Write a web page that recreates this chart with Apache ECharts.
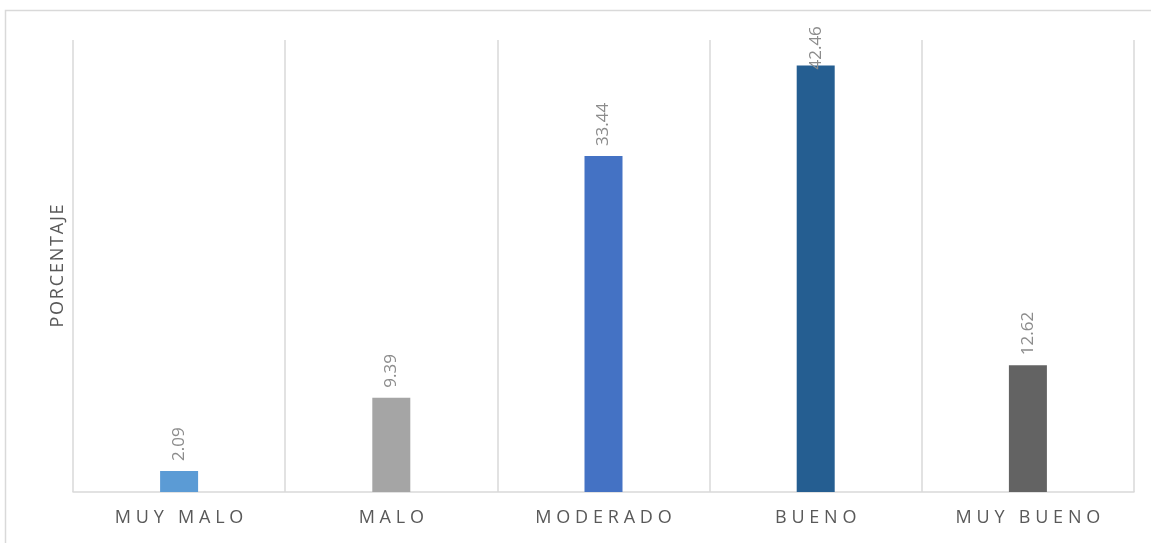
<!DOCTYPE html>
<html><head><meta charset="utf-8">
<script src="https://cdn.jsdelivr.net/npm/echarts@6/dist/echarts.min.js"></script>
<style>html,body{margin:0;padding:0;background:#fff}#c{width:1151px;height:543px}</style>
</head><body><div id="c"></div>
<script>
const categories = ['MUY MALO', 'MALO', 'MODERADO', 'BUENO', 'MUY BUENO'];
const values = [2.09, 9.39, 33.44, 42.46, 12.62];
const barColors = ['#5B9BD5', '#A5A5A5', '#4472C4', '#255E91', '#636363'];
const yAxisName = 'PORCENTAJE';

const spaced = (s, gap) => s.split('').join(gap);
const chart = echarts.init(document.getElementById('c'));
chart.setOption({
  animation: false,
  backgroundColor: '#fff',
  textStyle: { fontFamily: '"Open Sans", sans-serif' },
  graphic: [{
    type: 'rect', silent: true,
    shape: { x: 5.5, y: 10.5, width: 1300, height: 700 },
    style: { fill: 'none', stroke: '#d9d9d9', lineWidth: 1.5 }
  }],
  grid: { left: 73, right: 17, top: 40, bottom: 51, containLabel: false },
  xAxis: {
    type: 'category',
    data: categories,
    boundaryGap: true,
    axisLine: { show: true, lineStyle: { color: '#d9d9d9', width: 1.5 } },
    axisTick: { show: false },
    splitLine: { show: true, lineStyle: { color: '#d9d9d9', width: 1.5 } },
    axisLabel: {
      color: '#595959', fontSize: 18, margin: 17,
      formatter: v => spaced(v, '\u2009\u200A')
    }
  },
  yAxis: {
    type: 'value', min: 0, max: 45,
    name: spaced(yAxisName, '\u200A'), nameLocation: 'middle', nameGap: 6,
    nameTextStyle: { color: '#595959', fontSize: 18 },
    axisLine: { show: false }, axisTick: { show: false },
    axisLabel: { show: false }, splitLine: { show: false }
  },
  series: [{
    type: 'bar',
    barWidth: 38,
    data: values.map((v, i) => ({
      value: v, itemStyle: { color: barColors[i] },
      label: i === 3 ? { distance: -4 } : undefined
    })),
    label: {
      show: true, position: 'top', rotate: 90, distance: 10,
      align: 'left', verticalAlign: 'middle',
      color: '#8c8c8c', fontSize: 17,
      formatter: p => p.value.toFixed(2)
    }
  }]
});
</script></body></html>
